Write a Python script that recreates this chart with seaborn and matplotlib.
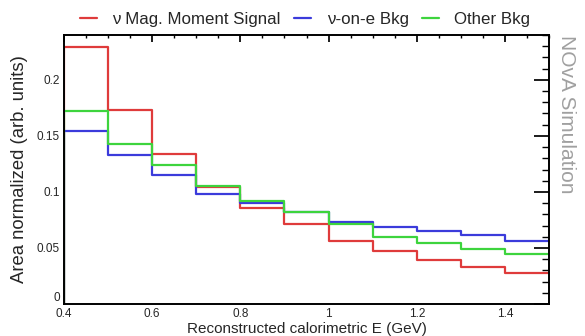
import numpy as np
import pandas as pd
import matplotlib
matplotlib.use("Agg")
import matplotlib.pyplot as plt
import seaborn as sns
from matplotlib.lines import Line2D
from matplotlib.ticker import MultipleLocator

sns.set_theme(style="white")
plt.rcParams['font.family'] = ['Liberation Sans', 'DejaVu Sans']

# bin edges (GeV) and area-normalised contents
bin_edges = [0.4, 0.5, 0.6, 0.7, 0.8, 0.9, 1.0, 1.1, 1.2, 1.3, 1.4, 1.5]
signal = [0.229, 0.173, 0.134, 0.104, 0.086, 0.071, 0.056, 0.047, 0.039, 0.033, 0.028]
nu_on_e = [0.154, 0.133, 0.115, 0.098, 0.090, 0.082, 0.073, 0.069, 0.065, 0.062, 0.056]
other = [0.172, 0.143, 0.124, 0.105, 0.092, 0.082, 0.071, 0.060, 0.054, 0.049, 0.045]

labels = ["ν Mag. Moment Signal", "ν-on-e Bkg", "Other Bkg"]
colors = {"ν Mag. Moment Signal": "#df3b3b",
          "ν-on-e Bkg": "#3b3bdb",
          "Other Bkg": "#3dd43d"}

centers = [(a + b) / 2 for a, b in zip(bin_edges[:-1], bin_edges[1:])]
rows = []
for lab, vals in zip(labels, [signal, nu_on_e, other]):
    for c, v in zip(centers, vals):
        rows.append({"E": c, "w": v, "sample": lab})
df = pd.DataFrame(rows)

fig = plt.figure(figsize=(5.85, 3.36), dpi=100)
ax = fig.add_axes([0.1094, 0.0952, 0.8291, 0.8006])

for lab, vals in zip(labels, [signal, nu_on_e, other]):
    sub = df[df["sample"] == lab]
    sns.histplot(data=sub, x="E", weights="w", bins=bin_edges, element="step",
                 fill=False, color=colors[lab], linewidth=1.6, ax=ax)
    # ROOT-style histogram: rising edge from zero at the first bin
    ax.plot([bin_edges[0], bin_edges[0]], [0, vals[0]], color=colors[lab], lw=1.6)

ax.set_xlim(0.4, 1.5)
ax.set_ylim(0, 0.24)
ax.set_xlabel("Reconstructed calorimetric E (GeV)", fontsize=11, labelpad=1)
ax.set_ylabel("Area normalized (arb. units)", fontsize=13.3, labelpad=6)

ax.xaxis.set_major_locator(MultipleLocator(0.2))
ax.xaxis.set_minor_locator(MultipleLocator(0.05))
ax.yaxis.set_major_locator(MultipleLocator(0.05))
ax.yaxis.set_minor_locator(MultipleLocator(0.01))
ax.set_xticklabels([f"{t:g}" for t in ax.get_xticks()])
ax.set_yticks([0, 0.05, 0.1, 0.15, 0.2])
ax.set_yticklabels(["0", "0.05", "0.1", "0.15", "0.2"])
ax.tick_params(axis="both", which="both", direction="in", top=True, right=True,
               labelsize=8.5, color="black")
ax.tick_params(axis="x", which="major", length=5, pad=3)
ax.tick_params(axis="x", which="minor", length=2.5)
ax.tick_params(axis="y", which="major", length=10.5, pad=3)
ax.tick_params(axis="y", which="minor", length=5)
ax.get_yticklabels()[0].set_va("bottom")
for s in ax.spines.values():
    s.set_color("black")
    s.set_linewidth(1.4)

handles = [Line2D([0], [0], color=colors[l], lw=1.6) for l in labels]
fig.legend(handles, labels, loc="upper center", bbox_to_anchor=(0.522, 1.01),
           ncol=3, frameon=False, fontsize=12.2, handlelength=1.0,
           columnspacing=0.8, handletextpad=0.9)

fig.text(0.969, 0.895, "NOvA Simulation", rotation=-90, ha="center", va="top",
         fontsize=15, color="#a0a0a0")

fig.savefig("out.png", dpi=100, facecolor="white")
